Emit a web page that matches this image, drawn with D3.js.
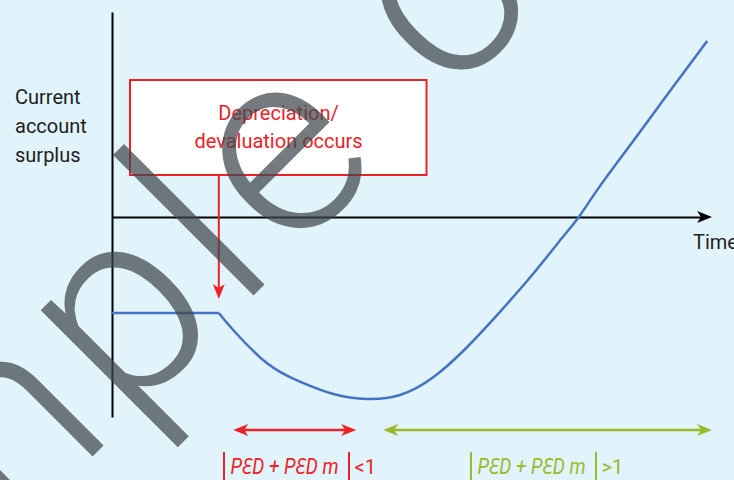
<!DOCTYPE html>
<html>
<head>
<meta charset="utf-8">
<script src="https://cdn.jsdelivr.net/npm/d3@7"></script>
<style>
  html, body { margin: 0; padding: 0; background: #e1f3fb; }
  svg { display: block; }
  text { font-family: Roboto, "Noto Sans", "DejaVu Sans", sans-serif; }
</style>
</head>
<body>
<svg id="chart" width="734" height="480"></svg>
<script>
// J-curve: the current account balance over time after a depreciation
const timeSteps      = [0, 1.78, 2.02, 2.58, 3.13, 3.69, 4.25, 4.8, 5.36, 5.92, 6.47, 7.03, 7.5, 7.78, 8.13, 8.7, 9.25, 9.92];
const currentAccount = [-4.8, -4.8, -5.65, -7.3, -8.23, -8.85, -9.1, -8.9, -8.0, -6.5, -4.73, -2.8, -1.05, 0, 1.53, 3.85, 6.1, 8.8];

// moment of the depreciation and the level the annotation arrow reaches
const shockTime  = 1.78;
const shockLevel = -4.1;

// elasticity phases along the time axis
const phaseStart = [2.02, 4.52];
const phaseEnd   = [4.07, 10];
const phaseSign  = ["<1", ">1"];

const yAxisLabel     = ["Current", "account", "surplus"];
const xAxisLabel     = "Time";
const boxLabel       = ["Depreciation/", "devaluation occurs"];
const elasticityText = "P\u0190D + P\u0190D m";
const watermarkText  = "Sample copy";

// ---- layout and style ----
const RED = "#ec2227", GREEN = "#9aba2b", BLUE = "#4472c4", INK = "#1e1e1e";
const phaseColor = [RED, GREEN];
const phaseLabelLeft = [224, 471];   // left bar of |...| in pixels
const phaseArrowY = 430;

const svg = d3.select("#chart");

const x = d3.scaleLinear().domain([0, 10]).range([112, 712]);
const y = d3.scaleLinear().domain([-10, 10.25]).range([417, 12]);

function arrowHead(g, px, py, angle, color) {
  g.append("path")
    .attr("d", "M0,0L-15,-6L-11,0L-15,6Z")
    .attr("transform", `translate(${px},${py}) rotate(${angle})`)
    .attr("fill", color);
}

// axes: bare lines, no ticks
svg.append("g")
  .attr("transform", `translate(0,${y(0)})`)
  .call(d3.axisBottom(x.copy().range([112, 704])).tickValues([]).tickSizeOuter(0));
svg.append("g")
  .attr("transform", `translate(${x(0)},0)`)
  .call(d3.axisLeft(y).tickValues([]).tickSizeOuter(0));
svg.selectAll(".domain").attr("stroke", "#000").attr("stroke-width", 2);
arrowHead(svg, x(10), y(0), 0, "#000");

// axis labels
svg.append("text")
  .attr("font-size", 20).attr("fill", INK)
  .selectAll("tspan").data(yAxisLabel).join("tspan")
  .attr("x", 15).attr("y", (d, i) => 104 + i * 29).text(d => d);
svg.append("text")
  .attr("x", 693).attr("y", 249).attr("font-size", 20).attr("fill", INK)
  .text(xAxisLabel);

// annotation box
svg.append("rect")
  .attr("x", 130).attr("y", 80).attr("width", 296.5).attr("height", 95)
  .attr("fill", "#fff").attr("stroke", RED).attr("stroke-width", 2);
svg.append("text")
  .attr("text-anchor", "middle").attr("font-size", 20).attr("fill", RED)
  .selectAll("tspan").data(boxLabel).join("tspan")
  .attr("x", 278.5).attr("y", (d, i) => 120 + i * 28).text(d => d);

// arrow from the box down to the moment of depreciation
svg.append("line")
  .attr("x1", x(shockTime)).attr("x2", x(shockTime))
  .attr("y1", 176).attr("y2", y(shockLevel) - 10)
  .attr("stroke", RED).attr("stroke-width", 2);
arrowHead(svg, x(shockTime), y(shockLevel), 90, RED);

// the J-curve: flat until the depreciation, then a smooth dip and recovery
const pts = timeSteps.map((t, i) => [t, currentAccount[i]]);
const flatLine  = d3.line().x(d => x(d[0])).y(d => y(d[1]));
const curveLine = d3.line().x(d => x(d[0])).y(d => y(d[1])).curve(d3.curveNatural);
svg.append("path").attr("d", flatLine(pts.slice(0, 2)))
  .attr("fill", "none").attr("stroke", BLUE).attr("stroke-width", 2.5);
svg.append("path").attr("d", curveLine(pts.slice(1)))
  .attr("fill", "none").attr("stroke", BLUE).attr("stroke-width", 2.5);

// elasticity phases: double arrows with |PED + PED m| labels
phaseStart.forEach((s, i) => {
  const c = phaseColor[i];
  const x0 = x(s), x1 = x(phaseEnd[i]);
  svg.append("line")
    .attr("x1", x0 + 8).attr("x2", x1 - 8)
    .attr("y1", phaseArrowY).attr("y2", phaseArrowY)
    .attr("stroke", c).attr("stroke-width", 2.5);
  arrowHead(svg, x0, phaseArrowY, 180, c);
  arrowHead(svg, x1, phaseArrowY, 0, c);

  const lx = phaseLabelLeft[i];
  [lx, lx + 125].forEach(bx => {
    svg.append("line")
      .attr("x1", bx).attr("x2", bx).attr("y1", 452).attr("y2", 482)
      .attr("stroke", c).attr("stroke-width", 2);
  });
  svg.append("text")
    .attr("x", lx + 6.5).attr("y", 473.5)
    .attr("font-size", 22).attr("font-style", "italic").attr("fill", c)
    .attr("textLength", 108).attr("lengthAdjust", "spacingAndGlyphs")
    .text(elasticityText);
  svg.append("text")
    .attr("x", lx + 130.5).attr("y", 473.5)
    .attr("font-size", 20).attr("fill", c)
    .text(phaseSign[i]);
});

// watermark across the chart
const wm = svg.append("text")
  .attr("transform", "translate(274.5,274.5) rotate(-45)")
  .attr("font-size", 265).attr("font-weight", 300)
  .style("letter-spacing", "12px")
  .attr("fill", "#3f474c").attr("fill-opacity", 0.72)
  .text(watermarkText);
const node = wm.node();
const ls = node.getStartPositionOfChar(4).x;
const le = node.getStartPositionOfChar(5).x;
wm.attr("x", -21.9 - (ls + (le - ls - 12) / 2));
</script>
</body>
</html>
